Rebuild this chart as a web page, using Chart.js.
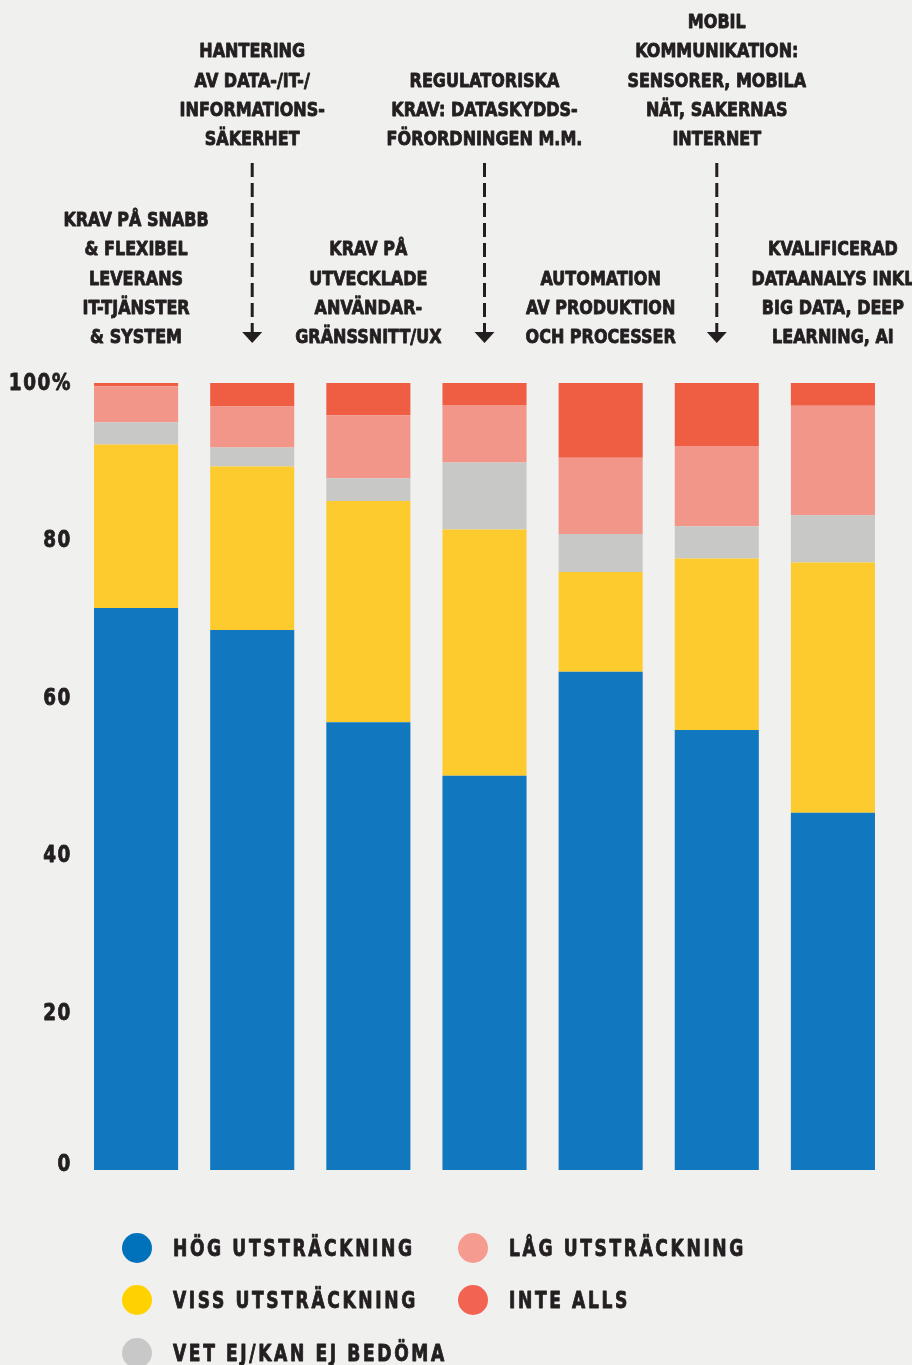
<!DOCTYPE html>
<html lang="sv">
<head>
<meta charset="utf-8">
<title>Digitaliseringens drivkrafter</title>
<script src="https://cdn.jsdelivr.net/npm/chart.js@4.4.1/dist/chart.umd.min.js"></script>
<style>
  html, body { margin: 0; padding: 0; background: #f0f0ee; }
  #wrap { position: relative; width: 912px; height: 1365px; overflow: hidden; }
  canvas { display: block; }
</style>
</head>
<body>
<div id="wrap"><canvas id="chart" width="912" height="1365"></canvas></div>
<script>
// Categories (multi-line headings above each bar)
const categories = [
  ['KRAV PÅ SNABB', '& FLEXIBEL', 'LEVERANS', 'IT-TJÄNSTER', '& SYSTEM'],
  ['HANTERING', 'AV DATA-/IT-/', 'INFORMATIONS-', 'SÄKERHET'],
  ['KRAV PÅ', 'UTVECKLADE', 'ANVÄNDAR-', 'GRÄNSSNITT/UX'],
  ['REGULATORISKA', 'KRAV: DATASKYDDS-', 'FÖRORDNINGEN M.M.'],
  ['AUTOMATION', 'AV PRODUKTION', 'OCH PROCESSER'],
  ['MOBIL', 'KOMMUNIKATION:', 'SENSORER, MOBILA', 'NÄT, SAKERNAS', 'INTERNET'],
  ['KVALIFICERAD', 'DATAANALYS INKL', 'BIG DATA, DEEP', 'LEARNING, AI']
];

// Share of answers in percent, bottom to top
const hogValues      = [71.4, 68.6, 56.9, 50.1, 63.3, 55.9, 45.4];
const vissValues     = [20.8, 20.8, 28.1, 31.3, 12.7, 21.8, 31.8];
const vetEjValues    = [2.8, 2.4, 2.9, 8.5, 4.8, 4.1, 6.0];
const lagValues      = [4.6, 5.2, 8.0, 7.3, 9.7, 10.2, 13.9];
const inteAllsValues = [0.4, 3.0, 4.1, 2.8, 9.5, 8.0, 2.9];

const seriesNames = ['HÖG UTSTRÄCKNING', 'VISS UTSTRÄCKNING', 'VET EJ/KAN EJ BEDÖMA', 'LÅG UTSTRÄCKNING', 'INTE ALLS'];
const yTickLabels = ['0', '20', '40', '60', '80', '100%'];

// headings that sit high up with a dashed arrow down to the bar
const raisedHeadings = [1, 3, 5];

const barColors    = ['#1177be', '#fdcb2e', '#c8c8c6', '#f2968a', '#ef5e43'];
const legendColors = ['#0072bc', '#ffd200', '#c8c8c8', '#f59b8f', '#f26451'];

const FONT = '"DejaVu Sans", "Liberation Sans", sans-serif';
const INK = '#231f20';

// draw text squeezed horizontally, with a thin outline to make it heavier
function condensedText(ctx, text, x, y, sx, align) {
  ctx.save();
  ctx.translate(x, y);
  ctx.scale(sx, 1);
  ctx.textAlign = align;
  ctx.lineWidth = 0.9;
  ctx.lineJoin = 'round';
  ctx.strokeStyle = ctx.fillStyle;
  ctx.strokeText(text, 0, 0);
  ctx.fillText(text, 0, 0);
  ctx.restore();
}

const textPlugin = {
  id: 'headings',
  afterDraw(chart) {
    const ctx = chart.ctx;
    const x = chart.scales.x;
    const y = chart.scales.y;
    ctx.save();
    ctx.fillStyle = INK;
    ctx.strokeStyle = INK;
    ctx.textBaseline = 'middle';

    // y axis labels
    ctx.font = 'bold 23px ' + FONT;
    ctx.letterSpacing = '2px';
    y.ticks.forEach((t, i) => {
      let py = y.getPixelForValue(t.value);
      if (t.value === 0) py -= 6;
      condensedText(ctx, yTickLabels[i], 72, py + 1, 0.8, 'right');
    });

    // headings
    ctx.font = 'bold 20px ' + FONT;
    ctx.letterSpacing = '0px';
    const lineH = 29.3;
    categories.forEach((lines, i) => {
      const cx = x.getPixelForValue(i);
      const raised = raisedHeadings.includes(i);
      const last = raised ? 139 : 337;
      lines.forEach((t, k) => {
        condensedText(ctx, t, cx, last - (lines.length - 1 - k) * lineH + 1, 0.8, 'center');
      });
      if (raised) {
        ctx.lineWidth = 3;
        ctx.setLineDash([14, 6]);
        ctx.beginPath();
        ctx.moveTo(cx, 163);
        ctx.lineTo(cx, 334);
        ctx.stroke();
        ctx.setLineDash([]);
        ctx.beginPath();
        ctx.moveTo(cx - 10, 332);
        ctx.lineTo(cx + 10, 332);
        ctx.lineTo(cx, 343);
        ctx.closePath();
        ctx.fill();
      }
    });

    // legend: two columns of dots and labels
    const slots = [
      [137, 1248], [137, 1300], [137, 1353],
      [473, 1248], [473, 1300]
    ];
    ctx.font = 'bold 23px ' + FONT;
    ctx.letterSpacing = '3.5px';
    chart.data.datasets.forEach((ds, i) => {
      const [lx, ly] = slots[i];
      ctx.fillStyle = legendColors[i];
      ctx.beginPath();
      ctx.arc(lx, ly, 15, 0, Math.PI * 2);
      ctx.fill();
      ctx.fillStyle = INK;
      condensedText(ctx, ds.label, lx + 36, ly + 2, 0.745, 'left');
    });
    ctx.restore();
  }
};

const seriesValues = [hogValues, vissValues, vetEjValues, lagValues, inteAllsValues];

new Chart(document.getElementById('chart'), {
  type: 'bar',
  data: {
    labels: categories.map(c => c.join(' ')),
    datasets: seriesNames.map((name, i) => ({
      label: name,
      data: seriesValues[i],
      backgroundColor: barColors[i],
      borderWidth: 0,
      barPercentage: 0.724,
      categoryPercentage: 1
    }))
  },
  options: {
    responsive: false,
    animation: false,
    devicePixelRatio: 1,
    layout: { padding: { top: 383, right: 21, bottom: 195, left: 0 } },
    plugins: {
      legend: { display: false },
      tooltip: { enabled: false }
    },
    scales: {
      x: { stacked: true, display: false },
      y: {
        stacked: true,
        min: 0,
        max: 100,
        afterFit(scale) { scale.width = 78; },
        grid: { display: false, drawTicks: false },
        border: { display: false },
        ticks: { stepSize: 20, display: false }
      }
    }
  },
  plugins: [textPlugin]
});
</script>
</body>
</html>
